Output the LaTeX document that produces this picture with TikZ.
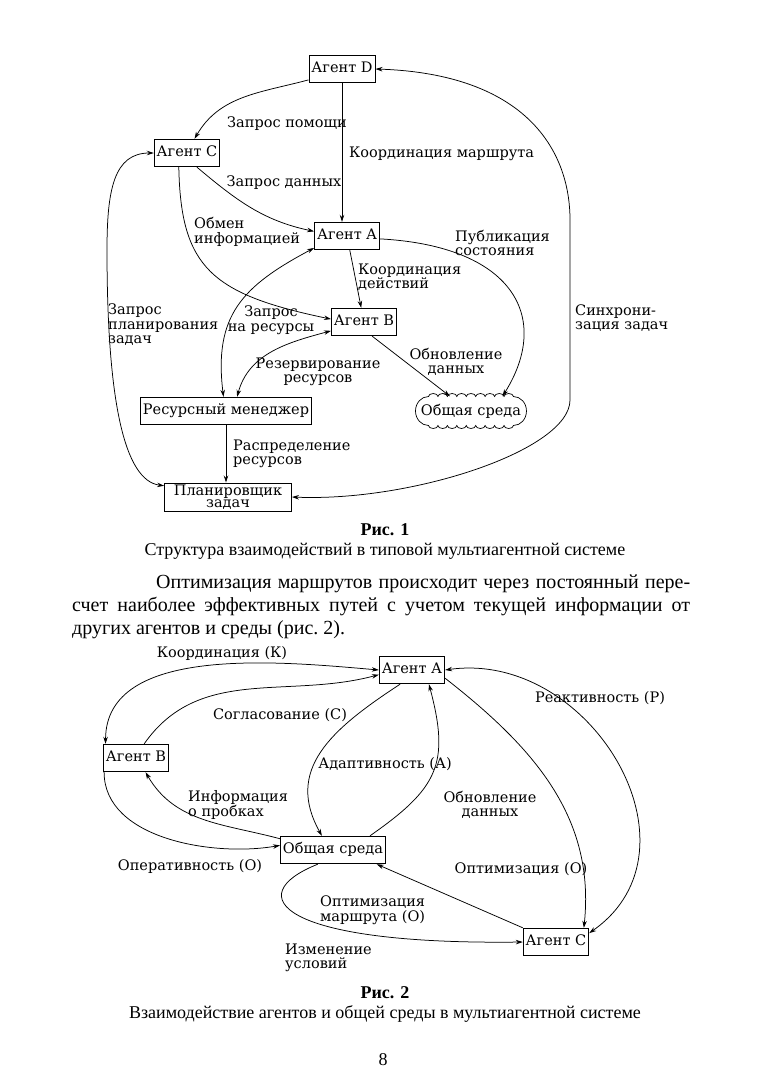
\documentclass[tikz,border=0pt]{standalone}
\usepackage{fontspec}
\setmainfont{Liberation Serif}
\newfontfamily\dgfont{DejaVu Serif}
\usetikzlibrary{arrows.meta, positioning}

\begin{document}
\begin{tikzpicture}[x=1pt, y=1pt,
    agent/.style={draw, line width=0.9pt, font=\dgfont\fontsize{14.5}{15}\selectfont,
        text height=10.5pt, text depth=3pt, inner xsep=2.5pt, inner ysep=7pt},
    lbl/.style={font=\dgfont\fontsize{14.5}{14.5}\selectfont, align=left, inner sep=1pt},
    flow/.style={-{Stealth[length=7pt, width=4.5pt]}, line width=0.75pt},
    both/.style={{Stealth[length=7pt, width=4.5pt]}-{Stealth[length=7pt, width=4.5pt]}, line width=0.75pt},
    body/.style={font=\fontsize{20}{23}\selectfont, inner sep=0pt, anchor=base west},
    capt/.style={font=\fontsize{18}{20}\selectfont, inner sep=0pt, anchor=base}
]
    \useasboundingbox (0,0) rectangle (763,-1079);
    \fill[white] (0,0) rectangle (763,-1079);

    % Figure 1: agents
    \node[agent] (d1D) at (342,-69) {Агент D};
    \node[agent] (d1C) at (187,-153) {Агент C};
    \node[agent] (d1A) at (347,-236) {Агент A};
    \node[agent] (d1B) at (364,-322) {Агент B};
    \node[agent] (rm) at (226,-411) {Ресурсный менеджер};
    \node[font=\dgfont\fontsize{14.5}{15}\selectfont, minimum width=114pt, minimum height=29pt, inner sep=0pt] (env1) at (471,-411) {Общая среда};
    \node[agent, align=center, inner ysep=1.5pt, text height=, text depth=, minimum width=127pt,
        font=\dgfont\fontsize{14.5}{12.5}\selectfont] (plan) at (228,-497) {Планировщик\\задач};

    % cloud outline round the shared environment
    \draw[line width=0.7pt] ([shift={(-42.5,14.5)}]env1.center)
        \foreach \k in {1,...,9} { arc[start angle=180, end angle=0, x radius=4.72pt, y radius=3pt] }
        arc[start angle=90, end angle=-90, x radius=13pt, y radius=14.5pt]
        \foreach \k in {1,...,9} { arc[start angle=0, end angle=-180, x radius=4.72pt, y radius=3pt] }
        arc[start angle=270, end angle=90, x radius=13pt, y radius=14.5pt] -- cycle;

    % Figure 1: links
    \draw[flow] (d1D.198) to[out=195, in=60] (d1C.62);
    \node[lbl] (l1a) at (287,-124) {Запрос помощи};

    \draw[flow] (d1D) -- (d1D |- d1A.north);
    \node[lbl, anchor=west] (l1b) at (348,-154) {Координация маршрута};

    \draw[flow] (d1C.-55) to[out=-40, in=168] (d1A.172);
    \node[lbl] (l1c) at (284,-183) {Запрос данных};

    \draw[flow] (d1C.240) .. controls +(2,-100) and +(-120,25) .. (d1B.175);
    \node[lbl, anchor=west] (l1d) at (193,-232) {Обмен\\информацией};

    \draw[flow] (d1A) -- (d1B);
    \node[lbl, anchor=west] (l1e) at (357,-277) {Координация\\действий};

    \draw[flow] (d1A.-5) .. controls +(132,-7) and +(50,80) .. (env1.25);
    \node[lbl, anchor=west] (l1f) at (454,-243) {Публикация\\состояния};

    \draw[flow] (d1B.-60) -- (env1.145);
    \node[lbl, align=center] (l1g) at (456,-362) {Обновление\\данных};

    \draw[both] (d1A.200) to[out=208, in=97, looseness=1.2] (rm.100);
    \node[lbl, align=center] (l1h) at (271,-320) {Запрос\\на ресурсы};

    \draw[both] (d1B.195) to[out=195, in=75] (rm.52);
    \node[lbl, align=center] (l1i) at (318,-372) {Резервирование\\ресурсов};

    \draw[flow] (rm) -- (rm |- plan.north);
    \node[lbl, anchor=west] (l1j) at (232,-454) {Распределение\\ресурсов};

    \draw[both] (d1C.west) .. controls +(-40,0) and +(0,60) .. (107,-250)
        .. controls +(0,-150) and +(-40,5) .. (plan.170);
    \node[lbl, anchor=west] (l1k) at (107,-325) {Запрос\\планирования\\задач};

    \draw[both] (d1D.east) .. controls +(150,-5) and +(0,70) .. (570,-220)
        -- (570,-400) .. controls +(0,-50) and +(120,-5) .. (plan.east);
    \node[lbl, anchor=west] (l1l) at (574,-318) {Синхрони-\\зация задач};

    % Caption and text
    \node[capt, font=\bfseries\fontsize{18}{20}\selectfont] (cap1) at (385,-535) {Рис. 1};
    \node[capt] (cap1t) at (385,-555) {Структура взаимодействий в типовой мультиагентной системе};
    \node[body] (par1) at (156,-588) {\makebox[534pt][s]{Оптимизация маршрутов происходит через постоянный пере-}};
    \node[body] (par2) at (72,-611) {\makebox[618pt][s]{счет наиболее эффективных путей с учетом текущей информации от}};
    \node[body] (par3) at (72,-634) {других агентов и среды (рис.~2).};

    % Figure 2: agents
    \node[agent] (d2A) at (412,-670) {Агент А};
    \node[agent] (d2B) at (136,-758) {Агент В};
    \node[agent] (env2) at (333,-850) {Общая среда};
    \node[agent] (d2C) at (556,-942) {Агент С};

    % Figure 2: links
    \draw[both] (d2A.west) to[out=175, in=90, looseness=0.9] (d2B.155);
    \node[lbl] (l2a) at (222,-653) {Координация (К)};

    \draw[flow] (d2B.60) to[out=55, in=195] (d2A.188);
    \node[lbl] (l2b) at (280,-715) {Согласование (С)};

    \draw[flow] (d2A.230) .. controls (330,-730) and (285,-770) .. (env2.128);
    \node[lbl] (l2c) at (385,-764) {Адаптивность (А)};

    \draw[flow] (env2.21) to[out=35, in=-75, looseness=1.3] (d2A.-40);
    \node[lbl, align=center] (l2d) at (490,-805) {Обновление\\данных};

    \draw[flow] (env2.168) to[out=165, in=-60] (d2B.-56);
    \node[lbl, anchor=west] (l2e) at (187,-805) {Информация\\о пробках};

    \draw[flow] (d2B.204) to[out=-90, in=190, looseness=0.9] (env2.175);
    \node[lbl] (l2f) at (190,-866) {Оперативность (О)};

    \draw[flow] (env2.223) .. controls +(-78,-31) and +(-244,-3) .. (d2C.west);
    \node[lbl, anchor=west] (l2g) at (284,-958) {Изменение\\условий};

    \draw[flow] (d2C.north west) -- (env2.-18);
    \node[lbl, anchor=west] (l2h) at (319,-910) {Оптимизация\\маршрута (О)};

    \draw[flow] (d2A.-14) to[out=-38, in=84] (d2C.27);
    \node[lbl] (l2i) at (521,-869) {Оптимизация (О)};

    \draw[both] (d2A.east) to[out=8, in=35, looseness=1.25] (d2C.15);
    \node[lbl] (l2j) at (600,-698) {Реактивность (Р)};

    % Caption and page number
    \node[capt, font=\bfseries\fontsize{18}{20}\selectfont] (cap2) at (385,-998) {Рис. 2};
    \node[capt] (cap2t) at (385,-1018) {Взаимодействие агентов и общей среды в мультиагентной системе};
    \node[capt] (pagenum) at (383,-1065) {8};
\end{tikzpicture}
\end{document}
